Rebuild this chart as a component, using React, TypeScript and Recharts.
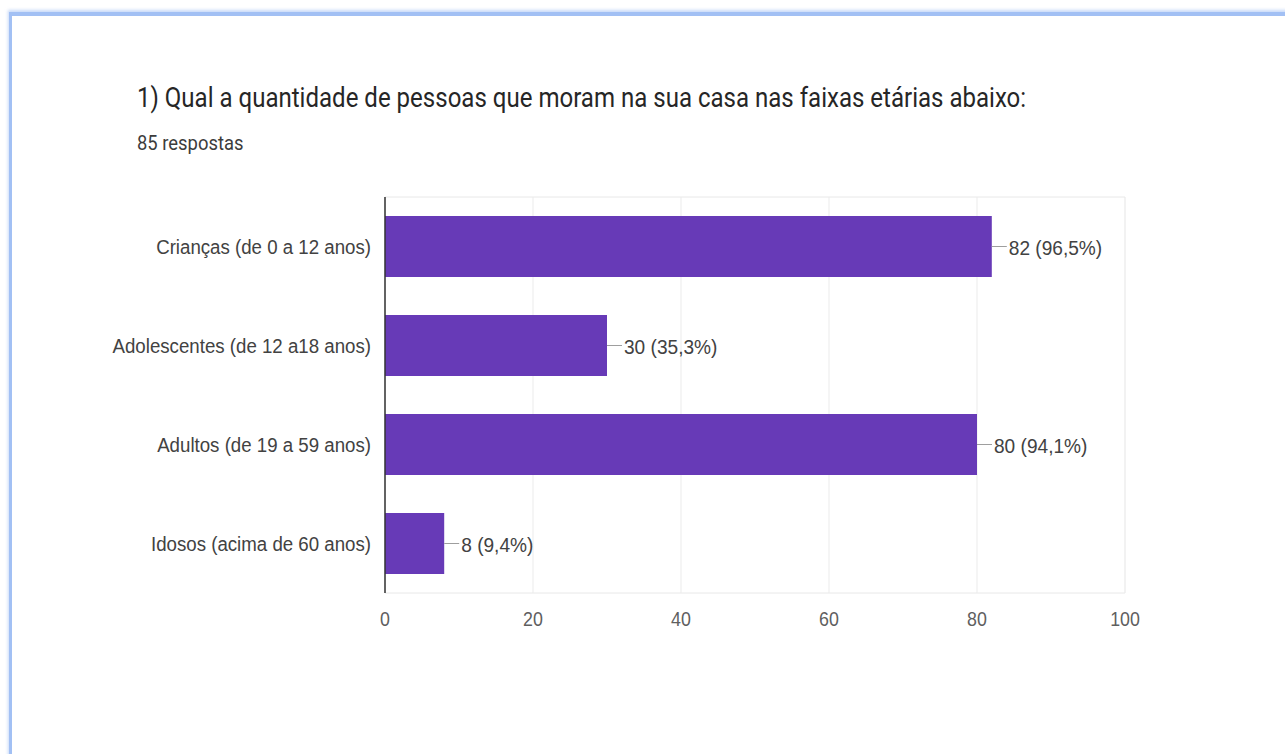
import { BarChart, Bar, XAxis, YAxis, CartesianGrid, LabelList } from 'recharts';

const categories = [
  'Crianças (de 0 a 12 anos)',
  'Adolescentes (de 12 a18 anos)',
  'Adultos (de 19 a 59 anos)',
  'Idosos (acima de 60 anos)',
];
const counts = [82, 30, 80, 8];
const percents = ['96,5', '35,3', '94,1', '9,4'];
const majorTicks = [0, 20, 40, 60, 80, 100];
const minorTicks = [0, 10, 20, 30, 40, 50, 60, 70, 80, 90, 100];

const data = categories.map((name, i) => ({
  name,
  count: counts[i],
  label: `${counts[i]} (${percents[i]}%)`,
}));

const BAR_COLOR = '#673ab7';
const CHART_FONT = '"Liberation Sans", Arial, sans-serif';
// the screenshot is slightly squeezed sideways, so text gets a narrow scale
const SQUEEZE = 0.89;

const YTick = (props: any) => {
  const { x, y, payload } = props;
  return (
    <text
      transform={`translate(${x},${y}) scale(${SQUEEZE},1)`}
      textAnchor="end"
      dy="0.35em"
      fill="#424242"
      fontSize={21}
      fontFamily={CHART_FONT}
    >
      {payload.value}
    </text>
  );
};

const XTick = (props: any) => {
  const { x, y, payload } = props;
  return (
    <text
      transform={`translate(${x},${y}) scale(${SQUEEZE},1)`}
      textAnchor="middle"
      dy="0.71em"
      fill="#5f5f5f"
      fontSize={20}
      fontFamily={CHART_FONT}
    >
      {payload.value}
    </text>
  );
};

const ValueLabel = (props: any) => {
  const { x, y, width, height, value } = props;
  const endX = x + width;
  const midY = y + height / 2;
  return (
    <g>
      <line x1={endX} y1={midY} x2={endX + 15} y2={midY} stroke="#9e9e9e" strokeWidth={1} />
      <text
        transform={`translate(${endX + 17},${midY + 1}) scale(0.91,1)`}
        dy="0.35em"
        fill="#424242"
        fontSize={21}
        fontFamily={CHART_FONT}
      >
        {value}
      </text>
    </g>
  );
};

export default function App() {
  return (
    <div
      style={{
        position: 'absolute',
        left: 0,
        top: 0,
        width: 1285,
        height: 754,
        background: '#fff',
        overflow: 'hidden',
      }}
    >
      <div
        style={{
          position: 'absolute',
          left: 9,
          top: 12,
          width: 1400,
          height: 900,
          borderTop: '4px solid #a2c0f4',
          borderLeft: '3px solid #a2c0f4',
          boxShadow: '-1px -2px 3px rgba(162,192,244,0.6)',
        }}
      />
      <div
        style={{
          position: 'absolute',
          left: 137,
          top: 82,
          fontFamily: 'Roboto, sans-serif',
          fontSize: 27,
          color: '#262626',
          whiteSpace: 'nowrap',
          transform: `scale(${SQUEEZE},1)`,
          transformOrigin: 'left top',
        }}
      >
        1) Qual a quantidade de pessoas que moram na sua casa nas faixas etárias abaixo:
      </div>
      <div
        style={{
          position: 'absolute',
          left: 137,
          top: 131,
          fontFamily: 'Roboto, sans-serif',
          fontSize: 20,
          color: '#3c3c3c',
          whiteSpace: 'nowrap',
          transform: 'scale(0.92,1)',
          transformOrigin: 'left top',
        }}
      >
        85 respostas
      </div>
      <div style={{ position: 'absolute', left: 0, top: 0 }}>
        <BarChart
          width={1285}
          height={754}
          data={data}
          layout="vertical"
          margin={{ top: 197, right: 160, bottom: 131, left: 135 }}
        >
          <CartesianGrid
            xAxisId="minor"
            stroke="#f2f2f2"
            horizontal={false}
          />
          <CartesianGrid
            stroke="#e8e8e8"
            vertical={false}
            horizontalCoordinatesGenerator={({ offset }: any) => [offset.top, offset.top + offset.height]}
          />
          <CartesianGrid stroke="#ebebeb" horizontal={false} />
          <XAxis
            xAxisId="minor"
            type="number"
            domain={[0, 100]}
            ticks={minorTicks}
            hide
          />
          <XAxis
            type="number"
            domain={[0, 100]}
            ticks={majorTicks}
            axisLine={false}
            tickLine={false}
            tickSize={0}
            tickMargin={19}
            height={30}
            tick={<XTick />}
          />
          <YAxis
            type="category"
            dataKey="name"
            width={250}
            axisLine={{ stroke: '#333', strokeWidth: 1.5 }}
            tickLine={false}
            tickSize={0}
            tickMargin={14}
            tick={<YTick />}
          />
          <Bar dataKey="count" fill={BAR_COLOR} barSize={61} isAnimationActive={false}>
            <LabelList dataKey="label" content={<ValueLabel />} />
          </Bar>
        </BarChart>
      </div>
    </div>
  );
}
